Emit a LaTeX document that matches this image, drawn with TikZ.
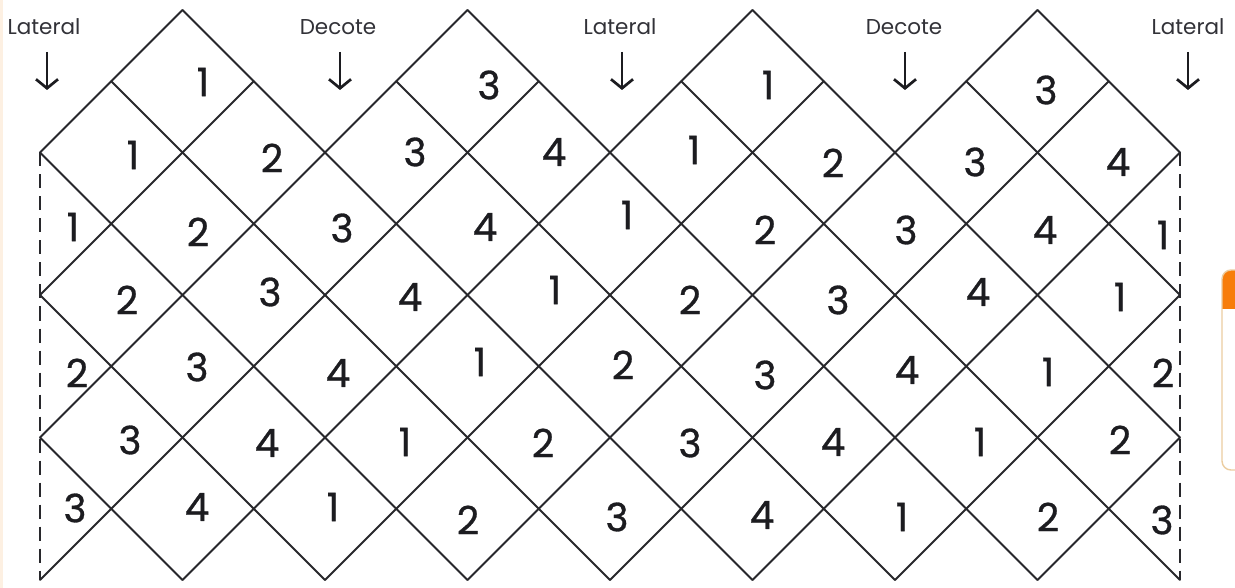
\documentclass[tikz,border=0pt]{standalone}
\usepackage{fontspec}
\setmainfont{Poppins}
\newfontfamily\numfont{Poppins}[FakeBold=0.8]
\usetikzlibrary{arrows.meta}
\definecolor{linec}{RGB}{40,40,44}
\definecolor{numc}{RGB}{28,28,32}
\definecolor{labc}{RGB}{50,50,56}
\definecolor{cardor}{RGB}{247,125,10}
\definecolor{cardln}{RGB}{236,205,160}
\definecolor{peach}{RGB}{253,240,226}
\begin{document}
\begin{tikzpicture}[x=1pt,y=-1pt,
  gridline/.style={draw=linec, line width=2pt, line cap=round, line join=round},
  sideline/.style={draw=linec, line width=1.9pt, dash pattern=on 14pt off 8pt},
  num/.style={font=\numfont\fontsize{39}{39}\selectfont, text=numc, inner sep=0pt},
  lab/.style={font=\fontsize{21.5}{21.5}\selectfont, text=labc, inner sep=0pt},
  pointer/.style={draw=numc, line width=2.7pt, -{Straight Barb[length=9pt,width=22pt]}}
]
\useasboundingbox (0,0) rectangle (1235,588);
\fill[white] (0,0) rectangle (1235,588);
\fill[peach] (0,0) rectangle (3,588);

% orange card (cropped UI element at right edge)
\begin{scope}
  \clip[rounded corners=9pt] (1222,270) rectangle (1270,470);
  \fill[cardor] (1222,270) rectangle (1270,309);
\end{scope}
\draw[cardln, line width=1.4pt, rounded corners=9pt] (1222,270) rectangle (1270,470);

% lattice
\begin{scope}[shift={(40,10)}, x=71.25pt, y=-71.25pt]
  \foreach \i in {0,...,16}{
    \foreach \j in {0,...,8}{
      \coordinate (v\i-\j) at (\i,\j);
    }
  }
  % lines going down to the right
  \foreach \a/\b in {0-6/2-8, 0-4/4-8, 0-2/6-8, 1-1/8-8, 2-0/10-8, 5-1/12-8,
                     6-0/14-8, 9-1/16-8, 10-0/16-6, 13-1/16-4, 14-0/16-2}{
    \draw[gridline] (v\a) -- (v\b);
  }
  % lines going up to the right
  \foreach \a/\b in {0-2/2-0, 0-4/3-1, 0-6/6-0, 0-8/7-1, 2-8/10-0, 4-8/11-1,
                     6-8/14-0, 8-8/15-1, 10-8/16-2, 12-8/16-4, 14-8/16-6}{
    \draw[gridline] (v\a) -- (v\b);
  }
  % dashed side edges
  \draw[sideline] (v0-2) -- (v0-8);
  \draw[sideline] (v16-2) -- (v16-8);
\end{scope}

% numbers
\foreach \x/\y/\t [count=\k] in {
  203/82/1, 489/85/3, 768/85/1, 1046/90/3,
  133/155/1, 272/158/2, 415/152/3, 554/152/4, 694/150/1, 833/163/2, 975/162/3, 1118/162/4,
  73/227/1, 198/232/2, 342/228/3, 485/227/4, 627/215/1, 765/230/2, 906/230/3, 1045/230/4, 1163/235/1,
  127/300/2, 270/292/3, 410/297/4, 555/290/1, 690/300/2, 838/300/3, 978/292/4, 1120/297/1,
  77/373/2, 197/367/3, 338/373/4, 480/362/1, 623/365/2, 765/375/3, 907/370/4, 1048/372/1, 1163/373/2,
  130/440/3, 267/443/4, 405/442/1, 543/443/2, 690/443/3, 833/442/4, 980/442/1, 1120/440/2,
  75/508/3, 197/507/4, 333/507/1, 468/520/2, 617/517/3, 762/515/4, 902/517/1, 1048/517/2, 1162/520/3}{
  \node[num] (n\k) at (\x,\y) {\t};
}

% labels with arrows
\foreach \x/\ax/\t [count=\k] in {44/47/Lateral, 338/340/Decote, 620/622/Lateral, 904/905/Decote, 1188/1188/Lateral}{
  \node[lab] (l\k) at (\x,27) {\t};
  \coordinate (as\k) at (\ax,52);
  \coordinate (ae\k) at (\ax,90);
  \draw[pointer] (as\k) -- (ae\k);
}
\end{tikzpicture}
\end{document}
